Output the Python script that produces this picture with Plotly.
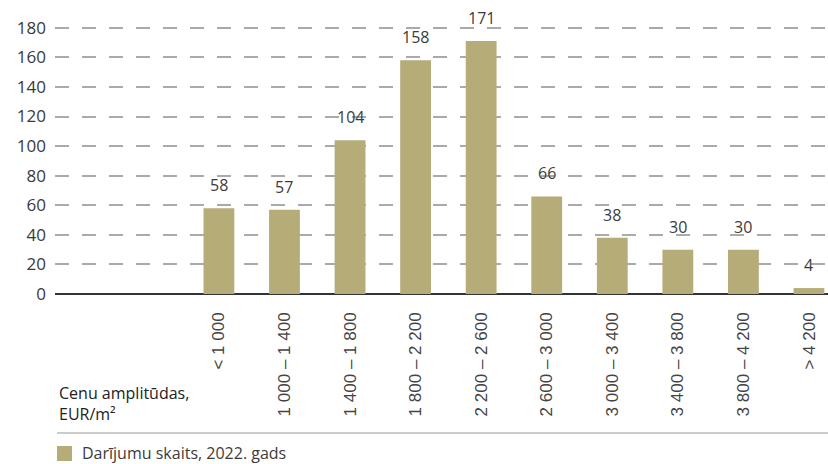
import plotly.graph_objects as go

categories = ["< 1 000", "1 000 – 1 400", "1 400 – 1 800", "1 800 – 2 200", "2 200 – 2 600",
              "2 600 – 3 000", "3 000 – 3 400", "3 400 – 3 800", "3 800 – 4 200", "> 4 200"]
deals = [58, 57, 104, 158, 171, 66, 38, 30, 30, 4]
y_ticks = [0, 20, 40, 60, 80, 100, 120, 140, 160, 180]
series_name = "Darījumu skaits, 2022. gads"
axis_title = "Cenu amplitūdas,<br>EUR/m²"

BAR = "#b5ac78"
TXT = "#3c3c3c"

fig = go.Figure()
fig.add_trace(go.Bar(
    x=categories, y=deals, name=series_name,
    marker=dict(color=BAR, line=dict(width=0)),
    width=0.47, showlegend=False,
))

for c, v in zip(categories, deals):
    fig.add_annotation(x=c, y=v, text=str(v), showarrow=False, yanchor="bottom",
                       yshift=10, font=dict(family="Open Sans", size=16, color=TXT))

# axis title annotation
fig.add_annotation(xref="paper", yref="paper", x=0.0026, y=-0.388, text=axis_title,
                   showarrow=False, xanchor="left", yanchor="middle", align="left",
                   font=dict(family="Open Sans", size=16, color="#222"))
# separator line
fig.add_shape(type="line", xref="paper", yref="paper", x0=0.0026, x1=1, y0=-0.4947, y1=-0.4947,
              line=dict(color="#cccccc", width=2))
# manual legend
fig.add_shape(type="rect", xref="paper", yref="paper", x0=0.0026, x1=0.0220, y0=-0.5943, y1=-0.5409,
              fillcolor=BAR, line=dict(width=0))
fig.add_annotation(xref="paper", yref="paper", x=0.0323, y=-0.5676, text=series_name,
                   showarrow=False, xanchor="left", yanchor="middle",
                   font=dict(family="Open Sans", size=16, color=TXT))

fig.update_layout(
    width=828, height=464,
    margin=dict(l=55, r=0, t=13, b=170, autoexpand=False),
    plot_bgcolor="white", paper_bgcolor="white",
    bargap=0.5,
)
fig.update_xaxes(
    type="category", range=[-2.5, 9.29], tickangle=-90, automargin=False,
    tickfont=dict(family="Liberation Sans", size=17, color="#444"),
    ticklabelstandoff=14,
    showgrid=False, showline=False, zeroline=False, ticks="",
)
fig.update_yaxes(
    range=[0, 190], tickvals=y_ticks, automargin=False,
    tickfont=dict(family="Open Sans", size=17, color="#3a3a3a"),
    ticklabelstandoff=8,
    showgrid=True, gridcolor="#aaaaaa", gridwidth=2, griddash="14px,13px",
    zeroline=True, zerolinecolor="#333333", zerolinewidth=2, showline=False, ticks="",
)

fig.write_html("out.html", config={"displayModeBar": False},
               post_script="document.body.style.margin='0';document.body.style.padding='0';document.body.style.overflow='hidden';")
